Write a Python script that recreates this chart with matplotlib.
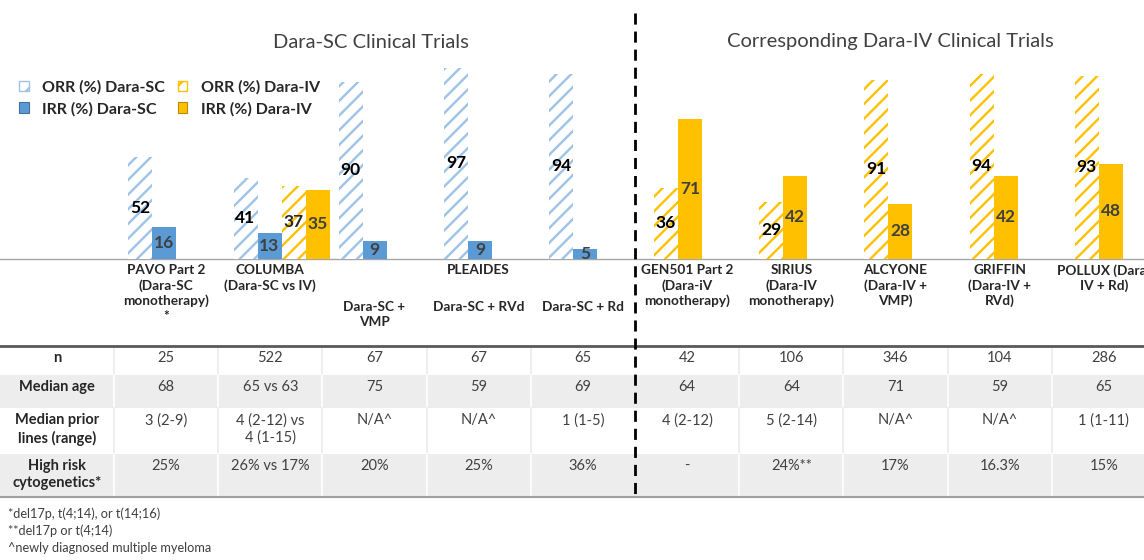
import numpy as np
import matplotlib
matplotlib.use('Agg')
import matplotlib.pyplot as plt
from matplotlib.patches import Patch, Rectangle

# dpi chosen so that the '//' hatch gets the same stripe spacing as the original
DPI = 88
K = 100 / DPI   # keeps sizes given for 100 dpi

plt.rcParams['font.family'] = ['Lato', 'DejaVu Sans']
plt.rcParams['hatch.linewidth'] = 1.7 * K

# ORR / IRR values (%)
sc_orr = [52, 41, 90, 97, 94]          # PAVO, COLUMBA, PLEIADES x3
sc_irr = [16, 13, 9, 9, 5]
columba_orr_iv = 37
columba_irr_iv = 35
iv_orr = [36, 29, 91, 94, 93]          # GEN501, SIRIUS, ALCYONE, GRIFFIN, POLLUX
iv_irr = [71, 42, 28, 42, 48]

# table contents
header_top = ['PAVO Part 2\n(Dara-SC\nmonotherapy)\n*', 'COLUMBA\n(Dara-SC vs IV)', '', 'PLEAIDES', '',
              'GEN501 Part 2\n(Dara-iV\nmonotherapy)', 'SIRIUS\n(Dara-IV\nmonotherapy)',
              'ALCYONE\n(Dara-IV +\nVMP)', 'GRIFFIN\n(Dara-IV +\nRVd)', 'POLLUX (Dara-\nIV + Rd)']
header_sub = ['', '', 'Dara-SC +\nVMP', 'Dara-SC + RVd', 'Dara-SC + Rd', '', '', '', '', '']
row_labels = ['n', 'Median age', 'Median prior\nlines (range)', 'High risk\ncytogenetics*']
n_vals = ['25', '522', '67', '67', '65', '42', '106', '346', '104', '286']
age_vals = ['68', '65 vs 63', '75', '59', '69', '64', '64', '71', '59', '65']
prior_vals = ['3 (2-9)', '4 (2-12) vs\n4 (1-15)', 'N/A^', 'N/A^', '1 (1-5)',
              '4 (2-12)', '5 (2-14)', 'N/A^', 'N/A^', '1 (1-11)']
risk_vals = ['25%', '26% vs 17%', '20%', '25%', '36%', '-', '24%**', '17%', '16.3%', '15%']
footnotes = ['*del17p, t(4;14), or t(14;16)', '**del17p or t(4;14)', '^newly diagnosed multiple myeloma']

BLUE = '#5B9BD5'
BLUE_H = '#9DC3E6'
GOLD = '#FFC000'
DARK = '#262626'

W, H = 1144, 560
fig = plt.figure(figsize=(W / DPI, H / DPI), dpi=DPI)

# background layer in pixel units: titles, table, footnotes
bg = fig.add_axes([0, 0, 1, 1])
bg.set_xlim(0, W)
bg.set_ylim(H, 0)
bg.axis('off')

# bar layer
base = 258.5
step = 105.2
first = 176.3
px_unit = 1.96
ax = fig.add_axes([0, 1 - base / H, 1, base / H])
ax.patch.set_alpha(0)
ax.set_xlim(-first / step, (W - first) / step)
ax.set_ylim(0, base / px_unit)
ax.axis('off')
w = 24 / step
xl = np.arange(5)
xr = np.arange(5) + (654 - first) / step


def bars(x, vals, color, hatch, tcolor):
    x = np.atleast_1d(x)
    vals = np.atleast_1d(vals)
    if hatch:
        ax.bar(x, vals, w, color='white', edgecolor=color, hatch=hatch, lw=0)
    else:
        ax.bar(x, vals, w, color=color, lw=0)
    for xi, v in zip(x, vals):
        ax.text(xi, v / 2, str(v), ha='center', va='center', fontsize=12.5 * K,
                fontweight='bold', color=tcolor)


bars(xl - 1.5 * w, sc_orr, BLUE_H, '//', 'black')
bars(xl - 0.5 * w, sc_irr, BLUE, None, '#404040')
bars(xl[1] + 0.5 * w, columba_orr_iv, GOLD, '//', '#262626')
bars(xl[1] + 1.5 * w, columba_irr_iv, GOLD, None, '#404040')
bars(xr + 0.5 * w, iv_orr, GOLD, '//', 'black')
bars(xr + 1.5 * w, iv_irr, GOLD, None, '#404040')

handles = [Patch(facecolor='white', edgecolor=BLUE_H, hatch='/', lw=1 * K, label='ORR (%) Dara-SC'),
           Patch(facecolor=BLUE, edgecolor='#41719C', lw=0.8 * K, label='IRR (%) Dara-SC'),
           Patch(facecolor='white', edgecolor=GOLD, hatch='/', lw=1 * K, label='ORR (%) Dara-IV'),
           Patch(facecolor=GOLD, edgecolor='#BC8C00', lw=0.8 * K, label='IRR (%) Dara-IV')]
leg = fig.legend(handles=handles, ncol=2, loc='upper left', bbox_to_anchor=(19 / W, 1 - 80 / H),
                 frameon=False, borderpad=0, borderaxespad=0, handlelength=0.6, handleheight=0.65,
                 handletextpad=0.85, columnspacing=0.8, labelspacing=0.45,
                 prop={'size': 11.5 * K, 'weight': 'bold'})
for t in leg.get_texts():
    t.set_color(DARK)

# titles
bg.text(371, 42, 'Dara-SC Clinical Trials', ha='center', va='center', fontsize=14.5 * K, color='#404040')
bg.text(890, 42, 'Corresponding Dara-IV Clinical Trials', ha='center', va='center', fontsize=14.5 * K,
        color='#404040')

# table grid
label_w = 114
col_w = 104.2
col_edges = [0] + [label_w + col_w * k for k in range(11)]
centers = [(a + b) / 2 for a, b in zip(col_edges[:-1], col_edges[1:])]
row_edges = [346, 375, 408, 454, 496]
divider = col_edges[6]

for r in range(4):
    top, bot = row_edges[r], row_edges[r + 1]
    gray = r % 2 == 1
    if gray:
        bg.add_patch(Rectangle((0, top), W, bot - top, fc='#EDEDED', lw=0))
    for e in col_edges[1:-1]:
        if e == divider:
            continue
        bg.plot([e, e], [top, bot], color='white' if gray else '#EBEBEB', lw=1.2 * K)

bg.plot([0, W], [base, base], color='#A6A6A6', lw=1 * K)
bg.plot([0, W], [row_edges[0], row_edges[0]], color='#595959', lw=2 * K)
bg.plot([0, W], [row_edges[-1] + 0.5, row_edges[-1] + 0.5], color='#A0A0A0', lw=1.5 * K)
bg.plot([divider, divider], [13, 497], color='black', lw=2 * K, linestyle=(0, (4, 2.5)))

# header text
for i in range(10):
    cx = centers[i + 1]
    if header_top[i]:
        bg.text(cx, 264, header_top[i], ha='center', va='top', fontsize=9.8 * K, fontweight='bold',
                color=DARK, linespacing=1.28)
    if header_sub[i]:
        bg.text(cx, 301, header_sub[i], ha='center', va='top', fontsize=9.8 * K, fontweight='bold',
                color=DARK, linespacing=1.28)

# body text
rows = [n_vals, age_vals, prior_vals, risk_vals]
for r, vals in enumerate(rows):
    top = row_edges[r] + 5
    bg.text(centers[0], top, row_labels[r], ha='center', va='top', fontsize=10.5 * K, fontweight='bold',
            color=DARK, linespacing=1.3)
    for i, v in enumerate(vals):
        bg.text(centers[i + 1], top, v, ha='center', va='top', fontsize=10.5 * K, color='#404040',
                linespacing=1.3)

for i, s in enumerate(footnotes):
    bg.text(8, 514 + 17 * i, s, ha='left', va='center', fontsize=9.2 * K, color='#404040')

fig.savefig('out.png', dpi=DPI)
